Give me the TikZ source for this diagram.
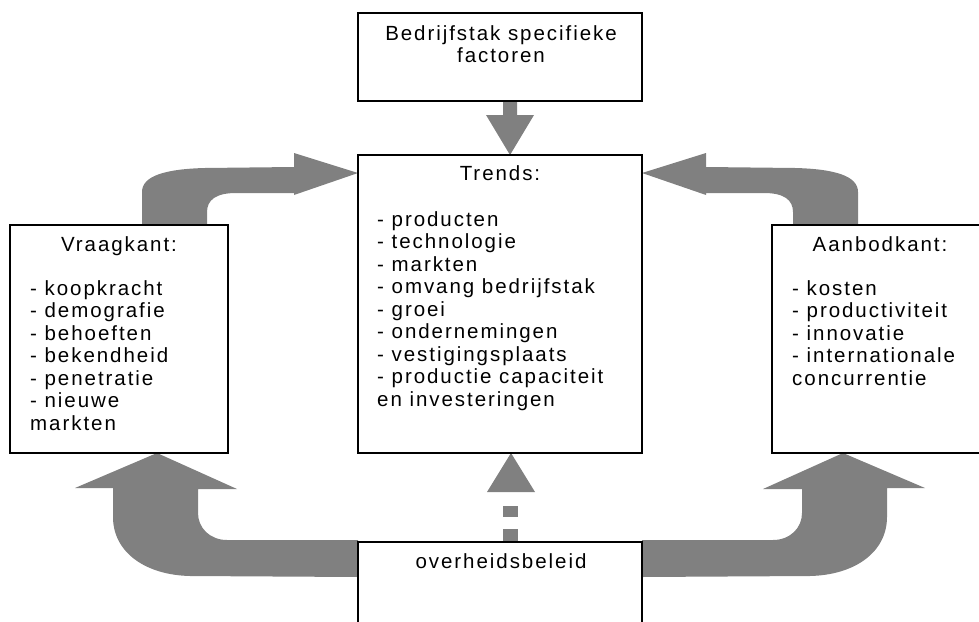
\documentclass[tikz,border=0pt]{standalone}
\usepackage{fontspec}
\setmainfont[LetterSpace=9.5]{Liberation Sans}
\definecolor{arrowgray}{HTML}{808080}
\begin{document}
\begin{tikzpicture}[x=1pt,y=-1pt,
  box/.style={draw=black, line width=1.2pt, fill=white, rectangle, inner sep=0pt, outer sep=0pt},
  arrowfill/.style={fill=arrowgray, draw=none},
  txt/.style={inner sep=0pt, font=\fontsize{20.5}{22.5}\selectfont}
]
\useasboundingbox (0,0) rectangle (979,621);
\clip (0,0) rectangle (979,621);

% block arrows
\fill[arrowfill] (142,226) -- (142,192) .. controls (142,176) and (165,169) .. (205,168) -- (294,167) -- (294,153) -- (358,173) -- (294,195) -- (294,193) -- (236,193) .. controls (216,193) and (207,200) .. (207,212) -- (207,226) -- cycle;
\fill[arrowfill] (858,226) -- (858,192) .. controls (858,176) and (835,169) .. (795,168) -- (706,167) -- (706,153) -- (642,173) -- (706,195) -- (706,193) -- (764,193) .. controls (784,193) and (793,200) .. (793,212) -- (793,226) -- cycle;
\fill[arrowfill] (358,577) -- (190,576) .. controls (145,575) and (113,552) .. (113,517) -- (113,488) -- (75,488) -- (157,453) -- (237,489) -- (198,489) -- (198,513) .. controls (198,528) and (210,540) .. (227,540) -- (358,540) -- cycle;
\fill[arrowfill] (642,577) -- (810,576) .. controls (855,575) and (887,552) .. (887,517) -- (887,488) -- (925,488) -- (843,453) -- (763,489) -- (802,489) -- (802,513) .. controls (802,528) and (790,540) .. (773,540) -- (642,540) -- cycle;
\fill[arrowfill] (503,100) -- (517,100) -- (517,115) -- (534,115) -- (510,155) -- (486,115) -- (503,115) -- cycle;
\fill[arrowfill] (503,492) -- (487,492) -- (511,453) -- (535,492) -- cycle;
\fill[arrowfill] (503,506) rectangle (518,517);
\fill[arrowfill] (503,529) rectangle (518,541);

% boxes
\node[box, minimum width=284pt, minimum height=88pt] (top) at (500,57) {};
\node[box, minimum width=284pt, minimum height=298pt] (trends) at (500,304) {};
\node[box, minimum width=218pt, minimum height=228pt] (vraag) at (119,339) {};
\node[box, minimum width=218pt, minimum height=228pt] (aanbod) at (881,339) {};
\node[box, minimum width=284pt, minimum height=98pt] (overheid) at (500,591) {};

% texts
\node[txt, anchor=base] (toptext) at (501,40) {\parbox[t]{280pt}{\centering Bedrijfstak specifieke\\factoren}};
\node[txt, anchor=base] (trendstitle) at (500,180) {Trends:};
\node[txt, anchor=base west] (trendslist) at (377,226) {\parbox[t]{260pt}{\raggedright
- producten\\
- technologie\\
- markten\\
- omvang bedrijfstak\\
- groei\\
- ondernemingen\\
- vestigingsplaats\\
- productie capaciteit\\
en investeringen}};
\node[txt, anchor=base] (vraagtitle) at (119,251) {Vraagkant:};
\node[txt, anchor=base west] (vraaglist) at (30,295) {\parbox[t]{190pt}{\raggedright
- koopkracht\\
- demografie\\
- behoeften\\
- bekendheid\\
- penetratie\\
- nieuwe\\
markten}};
\node[txt, anchor=base] (aanbodtitle) at (880,251) {Aanbodkant:};
\node[txt, anchor=base west] (aanbodlist) at (792,295) {\parbox[t]{185pt}{\raggedright
- kosten\\
- productiviteit\\
- innovatie\\
- internationale\\
concurrentie}};
\node[txt, anchor=base] (overheidtext) at (501,568) {overheidsbeleid};
\end{tikzpicture}
\end{document}
